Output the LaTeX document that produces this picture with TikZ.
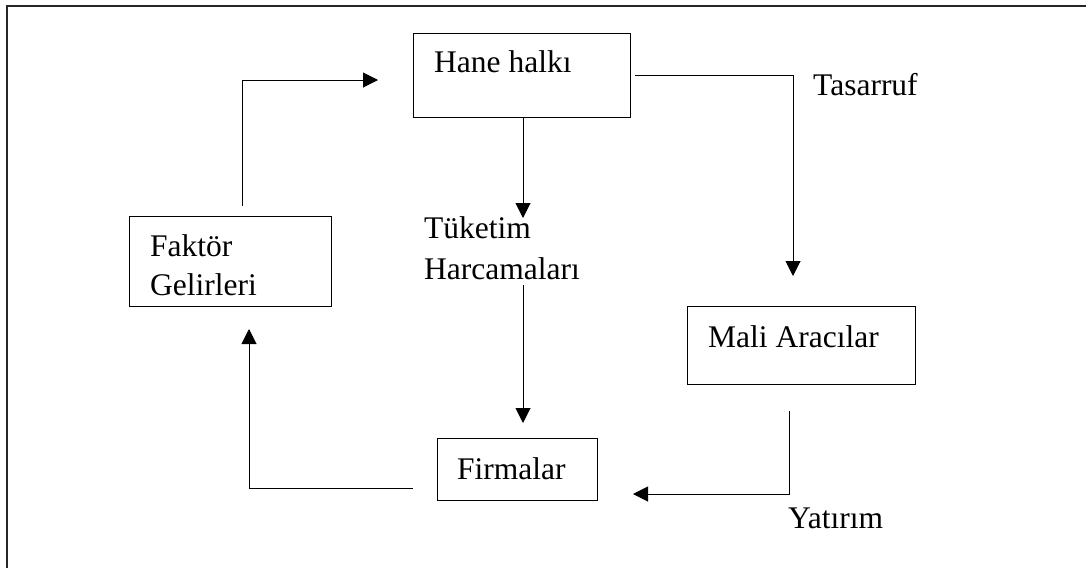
\documentclass[tikz,border=0pt]{standalone}
\usepackage{fontspec}
\setmainfont{Liberation Serif}
\usetikzlibrary{arrows.meta}
\begin{document}
\begin{tikzpicture}[x=1pt,y=-1pt,
  box/.style={draw,line width=1.2pt,inner sep=0pt,anchor=north west},
  lbl/.style={inner sep=0pt,anchor=base west,font=\fontsize{31.5}{38}\selectfont},
  flow/.style={line width=1pt},
  arr/.style={flow,-{Triangle[length=15pt,width=15pt]}}]
\useasboundingbox (0,0) rectangle (1086,568);

% outer frame (top and left edges)
\draw[line width=2pt,black!85] (7,568) -- (7,6) -- (1086,6);

% boxes
\node[box,minimum width=217pt,minimum height=84pt] (hane) at (413,33) {};
\node[box,minimum width=202pt,minimum height=90pt] (faktor) at (129,216) {};
\node[box,minimum width=228pt,minimum height=78pt] (mali) at (687,306) {};
\node[box,minimum width=160pt,minimum height=62pt] (firma) at (437,438) {};

% box texts
\node[lbl] (t-hane) at (434,72) {Hane halkı};
\node[lbl] (t-fak1) at (150,256) {Faktör};
\node[lbl] (t-fak2) at (150,295) {Gelirleri};
\node[lbl] (t-mali) at (708,347) {Mali Aracılar};
\node[lbl] (t-firma) at (457,479) {Firmalar};

% flow labels
\node[lbl] (t-tas) at (813,95) {Tasarruf};
\node[lbl] (t-tuk1) at (424,238) {Tüketim};
\node[lbl] (t-tuk2) at (424,279) {Harcamaları};
\node[lbl] (t-yat) at (788,528) {Yatırım};

% connector end points
\coordinate (fk-out) at (242,206);
\coordinate (hn-in) at (378,80);
\coordinate (hn-out) at (635,75);
\coordinate (ma-in) at (793,276);
\coordinate (tk-in) at (523,218);
\coordinate (tk-out) at (523,285);
\coordinate (fi-in) at (523,423);
\coordinate (ma-out) at (789,411);
\coordinate (fi-in2) at (633,494);
\coordinate (fi-out) at (413,488);
\coordinate (fk-in) at (249,329);

% flows
\draw[arr] (fk-out) |- (hn-in);
\draw[arr] (hn-out) -| (ma-in);
\draw[arr] (hane.south -| tk-in) -- (tk-in);
\draw[arr] (tk-out) -- (fi-in);
\draw[arr] (ma-out) |- (fi-in2);
\draw[arr] (fi-out) -| (fk-in);
\end{tikzpicture}
\end{document}
